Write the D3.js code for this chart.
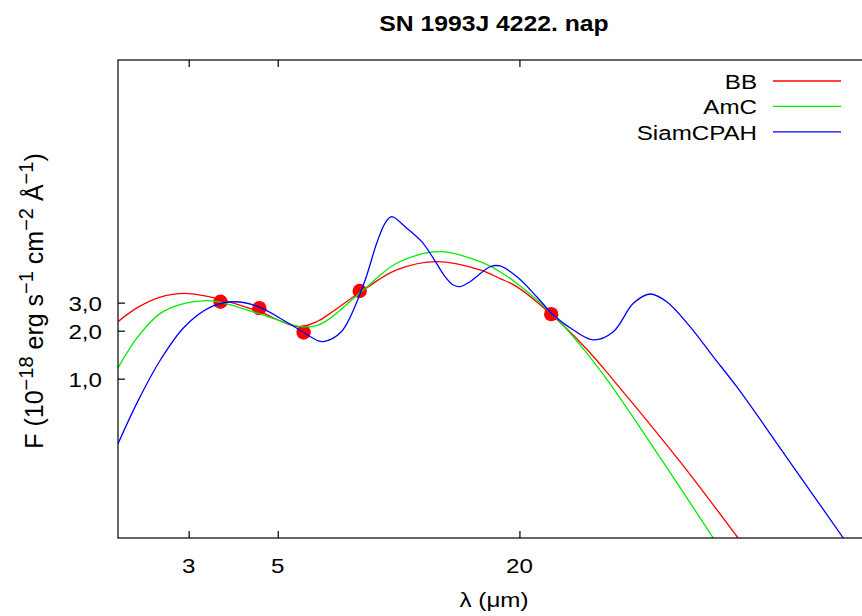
<!DOCTYPE html>
<html>
<head>
<meta charset="utf-8">
<script src="https://cdn.jsdelivr.net/npm/d3@7"></script>
<style>
    body { margin: 0; background: #fff; }
    svg { display: block; font-family: "Liberation Sans", Arial, sans-serif; }
</style>
</head>
<body>
<svg id="graph" width="862" height="616"></svg>
<script>
// Observed photometry (micron, 1e-18 erg/s/cm2/A):
var obsLambda = [3.6, 4.5, 5.8, 8.0, 24.0];
var obsFlux = [3.04, 2.77, 1.95, 3.55, 2.54];

// BB fit:
var bbLambda = [2.00, 2.24, 2.55, 2.93, 3.59, 4.47, 5.62, 6.30, 6.75, 8.17, 9.89, 12.45, 15.95, 17.89, 19.69, 23.84, 29.43, 34.28, 49.8, 70.1];
var bbFlux = [2.28, 2.80, 3.25, 3.43, 3.15, 2.65, 2.12, 2.30, 2.57, 3.60, 4.81, 5.42, 4.81, 4.25, 3.78, 2.57, 1.53, 0.98, 0.31, 0.10];

// AmC fit:
var amcLambda = [2.00, 2.24, 2.55, 2.93, 3.42, 4.47, 5.70, 6.30, 6.75, 8.17, 9.89, 12.69, 15.95, 17.89, 19.69, 23.84, 27.25, 33.12, 45.2, 60.8];
var amcFlux = [1.17, 1.83, 2.57, 2.97, 3.08, 2.57, 2.12, 2.17, 2.39, 3.60, 5.30, 6.27, 5.42, 4.69, 3.97, 2.63, 1.83, 0.98, 0.31, 0.10];

// SiamCPAH fit:
var pahLambda = [2.00, 2.24, 2.55, 2.93, 3.42, 3.91, 4.47, 5.41, 6.30, 6.50, 7.20, 8.17, 8.82, 9.25, 9.61, 10.48, 11.42, 12.21, 13.05, 13.69, 14.23, 15.07, 16.90, 17.89, 19.69, 22.08, 24.30, 27.25, 30.57, 34.28, 38.44, 42.30, 46.56, 53.21, 60.83, 69.56, 92.7, 128.2];
var pahFlux = [0.39, 0.72, 1.31, 2.12, 2.83, 3.04, 2.83, 2.17, 1.73, 1.71, 1.97, 3.87, 7.07, 9.44, 10.39, 8.79, 7.24, 5.69, 4.37, 3.87, 3.78, 4.06, 5.04, 5.10, 4.37, 3.27, 2.51, 2.02, 1.75, 1.97, 2.97, 3.40, 3.04, 2.12, 1.37, 0.89, 0.32, 0.10];

// Axes ticks:
var xTicks = [3, 5, 20];
var yTicks = [1, 2, 3];
var yTickLabels = ['1,0', '2,0', '3,0'];

var seriesNames = ['BB', 'AmC', 'SiamCPAH'];
var seriesColors = ['#ff0000', '#00ee00', '#0000ff'];

var graph = d3.select('#graph');
var pLeft = 118, pRight = 870.7, pTop = 60, pBottom = 538;
var stretch = 1.15;

// Scales:
var xScale = d3.scaleLog().domain([2, 150]).range([pLeft, pRight]);
var yScale = d3.scaleLog().domain([0.1, 100]).range([pBottom, pTop]);

// Helper for the (slightly wide) gnuplot text
function label(parent, x, y, str, anchor, size, weight) {
    return parent.append('g')
        .attr('transform', 'translate(' + x + ',' + y + ') scale(' + stretch + ',1)')
        .append('text')
        .attr('text-anchor', anchor)
        .attr('font-size', size || 21)
        .attr('font-weight', weight || 'normal')
        .text(str);
}

graph.append('clipPath').attr('id', 'clip')
     .append('rect').attr('x', pLeft).attr('y', pTop)
     .attr('width', pRight - pLeft).attr('height', pBottom - pTop);

// Title:
label(graph, 494, 31, 'SN 1993J 4222. nap', 'middle', 21.5, 'bold');

// The data points (drawn first, fits go over them):
graph.append('g').selectAll('circle')
     .data(d3.zip(obsLambda, obsFlux))
     .enter().append('circle')
     .attr('cx', (d) => xScale(d[0]))
     .attr('cy', (d) => yScale(d[1]))
     .attr('r', 7.2)
     .attr('fill', '#ff0000');

// The fits:
var line = d3.line()
    .x((d) => xScale(d[0]))
    .y((d) => yScale(d[1]))
    .curve(d3.curveCatmullRom.alpha(0.5));

var series = [d3.zip(bbLambda, bbFlux), d3.zip(amcLambda, amcFlux), d3.zip(pahLambda, pahFlux)];
graph.append('g').attr('clip-path', 'url(#clip)')
     .selectAll('path').data(series)
     .enter().append('path')
     .attr('d', line)
     .attr('fill', 'none')
     .attr('stroke-width', 1.3)
     .attr('stroke', (d, i) => seriesColors[i]);

// Frame and ticks:
graph.append('rect').attr('x', pLeft).attr('y', pTop)
     .attr('width', pRight - pLeft).attr('height', pBottom - pTop)
     .attr('fill', 'none').attr('stroke', '#000').attr('stroke-width', 1.2);

graph.append('g').attr('transform', 'translate(0,' + pBottom + ')')
     .call(d3.axisTop(xScale).tickValues(xTicks).tickSize(7).tickFormat(''));
graph.append('g').attr('transform', 'translate(0,' + pTop + ')')
     .call(d3.axisBottom(xScale).tickValues(xTicks).tickSize(7).tickFormat(''));
graph.append('g').attr('transform', 'translate(' + pLeft + ',0)')
     .call(d3.axisRight(yScale).tickValues(yTicks).tickSize(7).tickFormat(''));
graph.selectAll('.domain').remove();
graph.selectAll('.tick line').attr('stroke', '#000').attr('stroke-width', 1.2);

// Tick labels:
xTicks.forEach(function(t) {
    label(graph, xScale(t), 573, String(t), 'middle');
});
yTicks.forEach(function(t, i) {
    label(graph, 102, yScale(t) + 8, yTickLabels[i], 'end');
});

// X label:
label(graph, 494, 607, 'λ (μm)', 'middle');

// Y label:
var yLabel = graph.append('text')
    .attr('transform', 'translate(43,301) rotate(-90)')
    .attr('text-anchor', 'middle')
    .attr('font-size', 25);
var parts = [['F (10', 0], ['−18', 1], [' erg s', 0], ['−1', 1], [' cm', 0], ['−2', 1], [' Å', 0], ['−1', 1], [')', 0]];
var prev = 0;
parts.forEach(function(p) {
    var shift = p[1] ? -10 : 0;
    yLabel.append('tspan')
        .attr('dy', shift - prev)
        .attr('font-size', p[1] ? 20 : 25)
        .text(p[0]);
    prev = shift;
});

// Legend:
var legend = graph.append('g');
seriesNames.forEach(function(name, i) {
    var y = 81 + i * 25.4;
    label(legend, 757, y + 8, name, 'end');
    legend.append('line')
        .attr('x1', 773).attr('x2', 841)
        .attr('y1', y).attr('y2', y)
        .attr('stroke', seriesColors[i]).attr('stroke-width', 1.3);
});
</script>
</body>
</html>
